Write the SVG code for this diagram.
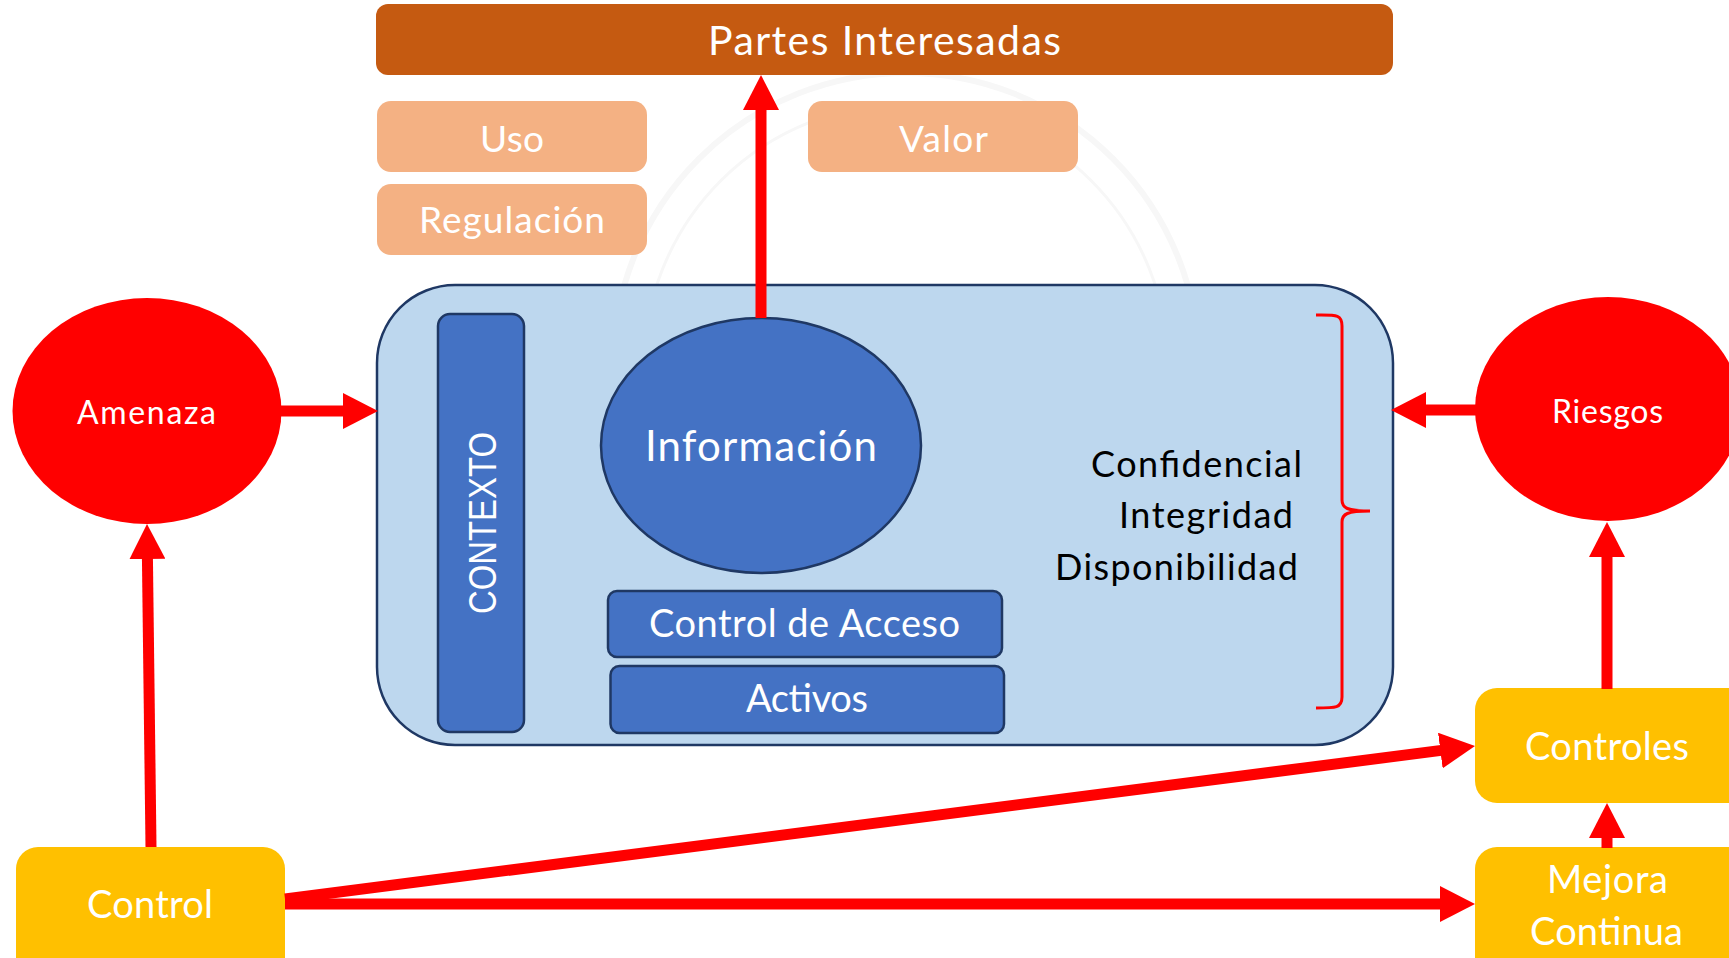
<svg xmlns="http://www.w3.org/2000/svg" width="1729" height="958" viewBox="0 0 1729 958">
<defs>
<style>
.lbl{font-family:Lato,'Open Sans','Liberation Sans',sans-serif;fill:#FFFFFF;text-anchor:middle}
.dark{font-family:Lato,'Open Sans','Liberation Sans',sans-serif;fill:#000000}
.blue{fill:#4472C4;stroke:#1F3864;stroke-width:2.5}
.org{fill:#F4B183}
.yel{fill:#FFC000}
.red{fill:#FF0000}
.conn{stroke:#FF0000;stroke-width:11;fill:none;marker-end:url(#ah)}
</style>
<marker id="ah" viewBox="0 0 35 36" markerWidth="35" markerHeight="36" refX="3" refY="18" orient="auto" markerUnits="userSpaceOnUse">
<path d="M0,0 L35,18 L0,36 z" fill="#FF0000"/>
</marker>
</defs>
<rect width="1729" height="958" fill="#FFFFFF"/>
<g id="watermark" fill="none" stroke="#F7F7F7">
<circle cx="906" cy="366" r="293" stroke-width="6"/>
<circle cx="906" cy="366" r="262" stroke-width="3"/>
</g>
<g id="partes">
<rect x="376" y="4" width="1017" height="71" rx="12" fill="#C55A11"/>
<text class="lbl" x="884.5" y="55" font-size="41" textLength="353">Partes Interesadas</text>
</g>
<g id="uso">
<rect class="org" x="377" y="101" width="270" height="71" rx="14"/>
<text class="lbl" x="512" y="152" font-size="37" textLength="64">Uso</text>
</g>
<g id="regulacion">
<rect class="org" x="377" y="184" width="270" height="71" rx="14"/>
<text class="lbl" x="512" y="233" font-size="37" textLength="186">Regulación</text>
</g>
<g id="valor">
<rect class="org" x="808" y="101" width="270" height="71" rx="14"/>
<text class="lbl" x="943.5" y="152" font-size="37" textLength="89">Valor</text>
</g>
<g id="contenedor">
<rect x="377" y="285" width="1016" height="460" rx="78" fill="#BDD7EE" stroke="#1F3864" stroke-width="2.5"/>
</g>
<g id="contexto">
<rect class="blue" x="438" y="314" width="86" height="418" rx="12"/>
<text x="481.5" y="537.5" transform="rotate(-90 481.5 523)" font-family="'Liberation Sans',Arial,sans-serif" font-size="39" fill="#FFFFFF" text-anchor="middle" textLength="182" lengthAdjust="spacingAndGlyphs">CONTEXTO</text>
</g>
<g id="informacion">
<ellipse class="blue" cx="761" cy="445.5" rx="160" ry="127.5"/>
<text class="lbl" x="761" y="461" font-size="42" textLength="232">Información</text>
</g>
<g id="control-acceso">
<rect class="blue" x="608" y="591" width="394" height="66" rx="9"/>
<text class="lbl" x="804.5" y="637" font-size="38" textLength="311">Control de Acceso</text>
</g>
<g id="activos">
<rect class="blue" x="610.5" y="666" width="393.5" height="67" rx="9"/>
<text class="lbl" x="807" y="712" font-size="38" textLength="122">Activos</text>
</g>
<g id="cid">
<text class="dark" x="1091" y="477" font-size="36" textLength="211">Confidencial</text>
<text class="dark" x="1119" y="528" font-size="36" textLength="174">Integridad</text>
<text class="dark" x="1055" y="580" font-size="36" textLength="243">Disponibilidad</text>
<path d="M1316,315 C1336,315 1342,314 1342,326 L1342,500 C1342,508 1347,511 1370,511 C1347,511 1342,514 1342,522 L1342,697 C1342,708 1336,708 1316,708" fill="none" stroke="#FF0000" stroke-width="3"/>
</g>
<g id="amenaza">
<ellipse class="red" cx="147" cy="411" rx="134.5" ry="113"/>
<text class="lbl" x="146.5" y="424" font-size="32" textLength="139">Amenaza</text>
</g>
<g id="riesgos">
<ellipse class="red" cx="1608" cy="409" rx="133" ry="112"/>
<text class="lbl" x="1607.5" y="423" font-size="32" textLength="111">Riesgos</text>
</g>
<g id="controles">
<rect class="yel" x="1475" y="688" width="280" height="115" rx="22"/>
<text class="lbl" x="1607" y="760" font-size="38" textLength="164">Controles</text>
</g>
<g id="mejora">
<rect class="yel" x="1475" y="847" width="280" height="140" rx="22"/>
<text class="lbl" x="1607.5" y="893" font-size="38" textLength="121">Mejora</text>
<text class="lbl" x="1606.5" y="945" font-size="38" textLength="153">Continua</text>
</g>
<g id="control">
<rect class="yel" x="16" y="847" width="269" height="140" rx="22"/>
<text class="lbl" x="150" y="918" font-size="38" textLength="126">Control</text>
</g>
<g id="connectors">
<line class="conn" x1="761" y1="318" x2="761" y2="107" stroke-width="12"/>
<line class="conn" x1="281" y1="411" x2="346" y2="411"/>
<line class="conn" x1="1476" y1="410" x2="1423" y2="410"/>
<line class="conn" x1="151" y1="847" x2="147.4" y2="556"/>
<line class="conn" x1="1607" y1="689" x2="1607" y2="554"/>
<line class="conn" x1="1607" y1="848" x2="1607" y2="835"/>
<line class="conn" x1="285" y1="904" x2="1443" y2="904"/>
<line class="conn" x1="285" y1="899" x2="1443.3" y2="750.1"/>
</g>
</svg>
